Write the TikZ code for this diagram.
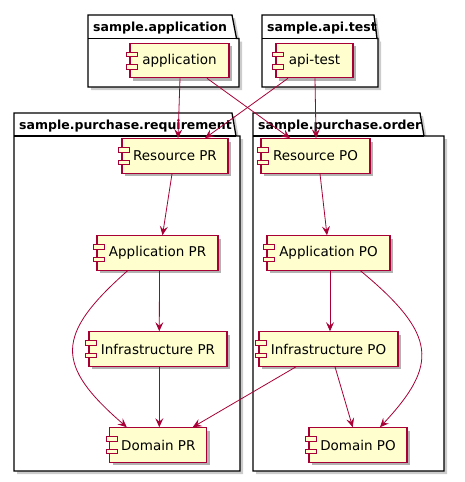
\documentclass[tikz,border=0pt]{standalone}
\usepackage{fontspec}
\setmainfont{DejaVu Sans}
\usetikzlibrary{arrows.meta,shadows}
\definecolor{pumlred}{HTML}{A80036}
\definecolor{pumlfill}{HTML}{FEFECE}
\tikzset{
  comp/.style={draw=pumlred, fill=pumlfill, line width=1.1pt, minimum height=34.5pt, inner sep=0pt,
    font=\fontsize{13.5}{16}\selectfont,
    drop shadow={shadow xshift=3pt, shadow yshift=-3pt, opacity=0.3, fill=black}},
  icon/.style={draw=pumlred, fill=pumlfill, line width=0.9pt},
  pkg/.style={draw=black, fill=white, line width=1.3pt, line join=miter},
  pkgshadow/.style={fill=black, opacity=0.2},
  ptitle/.style={anchor=base west, inner sep=0pt, font=\bfseries\fontsize{12.5}{15}\selectfont},
  dep/.style={draw=pumlred, line width=0.8pt, -{Stealth[length=9pt,width=8pt,inset=3.5pt]}}
}
\begin{document}
\begin{tikzpicture}[x=1pt,y=-1pt]
\useasboundingbox (0,0) rectangle (465,482);
% package shadows
\fill[pkgshadow] (91,18) -- (235,18) -- (239.5,41.5) -- (242,41.5) -- (242,90) -- (91,90) -- cycle;
\fill[pkgshadow] (265,18) -- (377,18) -- (380,41.5) -- (381,41.5) -- (381,90) -- (265,90) -- cycle;
\fill[pkgshadow] (17,116) -- (235,116) -- (239,139) -- (243,139) -- (243,474) -- (17,474) -- cycle;
\fill[pkgshadow] (256,116) -- (423,116) -- (427,139) -- (447,139) -- (447,474) -- (256,474) -- cycle;
% packages
\draw[pkg] (88,15) -- (232,15) -- (236.5,38.5) -- (239,38.5) -- (239,87) -- (88,87) -- cycle;
\draw[pkg] (88,38.5) -- (236.5,38.5);
\draw[pkg] (262,15) -- (374,15) -- (377,38.5) -- (378,38.5) -- (378,87) -- (262,87) -- cycle;
\draw[pkg] (262,38.5) -- (377,38.5);
\draw[pkg] (14,113) -- (232,113) -- (236,136) -- (240,136) -- (240,471) -- (14,471) -- cycle;
\draw[pkg] (14,136) -- (236,136);
\draw[pkg] (253,113) -- (420,113) -- (424,136) -- (444,136) -- (444,471) -- (253,471) -- cycle;
\draw[pkg] (253,136) -- (424,136);
\node[ptitle] (t1) at (93,31) {sample.application};
\node[ptitle] (t2) at (267,31) {sample.api.test};
\node[ptitle] (t3) at (19,129) {sample.purchase.requirement};
\node[ptitle] (t4) at (258,129) {sample.purchase.order};
% components
\node[comp, minimum width=99pt] (app) at (179.5,60.5) {application};
\node[comp, minimum width=77pt] (api) at (314.5,60.5) {api-test};
\node[comp, minimum width=106pt] (rpr) at (175,156) {Resource PR};
\node[comp, minimum width=109pt] (rpo) at (315.5,156) {Resource PO};
\node[comp, minimum width=121pt] (apr) at (157.5,253) {Application PR};
\node[comp, minimum width=123pt] (apo) at (328.5,253) {Application PO};
\node[comp, minimum width=138pt] (ipr) at (158,349) {Infrastructure PR};
\node[comp, minimum width=139pt] (ipo) at (328.5,349) {Infrastructure PO};
\node[comp, minimum width=97pt] (dpr) at (158.3,445) {Domain PR};
\node[comp, minimum width=98pt] (dpo) at (358,445) {Domain PO};
\foreach \n in {app,api,rpr,rpo,apr,apo,ipr,ipo,dpr,dpo}{
  \draw[icon] ([xshift=-3pt,yshift=4pt]\n.west) rectangle ++(11pt,4.5pt);
  \draw[icon] ([xshift=-3pt,yshift=-8.5pt]\n.west) rectangle ++(11pt,4.5pt);
}
% dependencies
\draw[dep] ([xshift=0.5pt]app.south) -- ([xshift=3pt]rpr.north);
\draw[dep] ([xshift=27.5pt]app.south) -- ([xshift=-25.5pt]rpo.north);
\draw[dep] ([xshift=-26.5pt]api.south) -- ([xshift=30pt]rpr.north);
\draw[dep] ([xshift=0.5pt]api.south) -- ([xshift=0.5pt]rpo.north);
\draw[dep] ([xshift=-3pt]rpr.south) -- ([xshift=5pt]apr.north);
\draw[dep] ([xshift=4.5pt]rpo.south) -- ([xshift=-1.5pt]apo.north);
\draw[dep] ([xshift=2pt]apr.south) -- ([xshift=1.3pt]ipr.north);
\draw[dep] ([xshift=-30pt]apr.south) .. controls (55,335) and (55,365) .. ([xshift=-31.5pt]dpr.north);
\draw[dep] ([xshift=1.3pt]ipr.south) -- ([xshift=1pt]dpr.north);
\draw[dep] ([xshift=-32.5pt]ipo.south) -- ([xshift=34.4pt]dpr.north);
\draw[dep] ([xshift=1.5pt]apo.south) -- ([xshift=1.5pt]ipo.north);
\draw[dep] ([xshift=32pt]apo.south) .. controls (438,335) and (438,365) .. ([xshift=22pt]dpo.north);
\draw[dep] ([xshift=6.5pt]ipo.south) -- ([xshift=-5.3pt]dpo.north);
\end{tikzpicture}
\end{document}
